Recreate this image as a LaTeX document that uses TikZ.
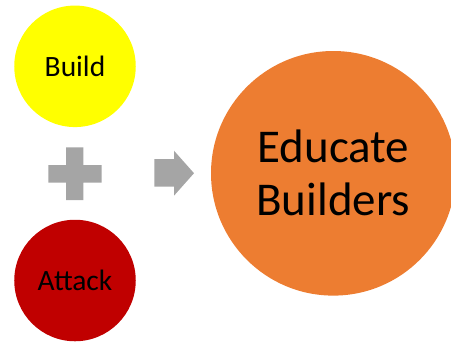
\documentclass[tikz,border=0pt]{standalone}
\usepackage{fontspec}
\setmainfont{Carlito}
\usetikzlibrary{positioning}
\definecolor{buildyellow}{HTML}{FFFF00}
\definecolor{attackred}{HTML}{C00000}
\definecolor{educateorange}{HTML}{ED7D31}
\definecolor{signgray}{HTML}{A5A5A5}
\begin{document}
\begin{tikzpicture}[x=1bp, y=-1bp]
\tikzstyle{bubble}=[circle, inner sep=0pt, text=black, align=center]
\tikzstyle{sign}=[fill=signgray, draw=none]
\useasboundingbox (0,0) rectangle (451,341);
\clip (0,0) rectangle (451,341);

% inputs
\node[bubble, fill=buildyellow, minimum size=121.5bp,
      font=\fontsize{29.5bp}{34bp}\selectfont] (build) at (75,66.3) {Build};
\node[bubble, fill=attackred, minimum size=121.5bp,
      font=\fontsize{29.5bp}{34bp}\selectfont] (attack) at (75,280.5) {Attack};

% plus
\fill[sign] (48.3,165) -- (66,165) -- (66,147.3) -- (83.3,147.3) -- (83.3,165)
      -- (101.7,165) -- (101.7,182.7) -- (83.3,182.7) -- (83.3,200)
      -- (66,200) -- (66,182.7) -- (48.3,182.7) -- cycle;

% arrow
\fill[sign] (154.3,159) -- (174,159) -- (174,150.7) -- (194,173.2)
      -- (174,195.7) -- (174,186.7) -- (154.3,186.7) -- cycle;

% result
\node[bubble, fill=educateorange, minimum size=244.6bp,
      font=\fontsize{47bp}{53bp}\selectfont] (educate) at (333.3,173.3)
      {Educate\\Builders};
\end{tikzpicture}
\end{document}
